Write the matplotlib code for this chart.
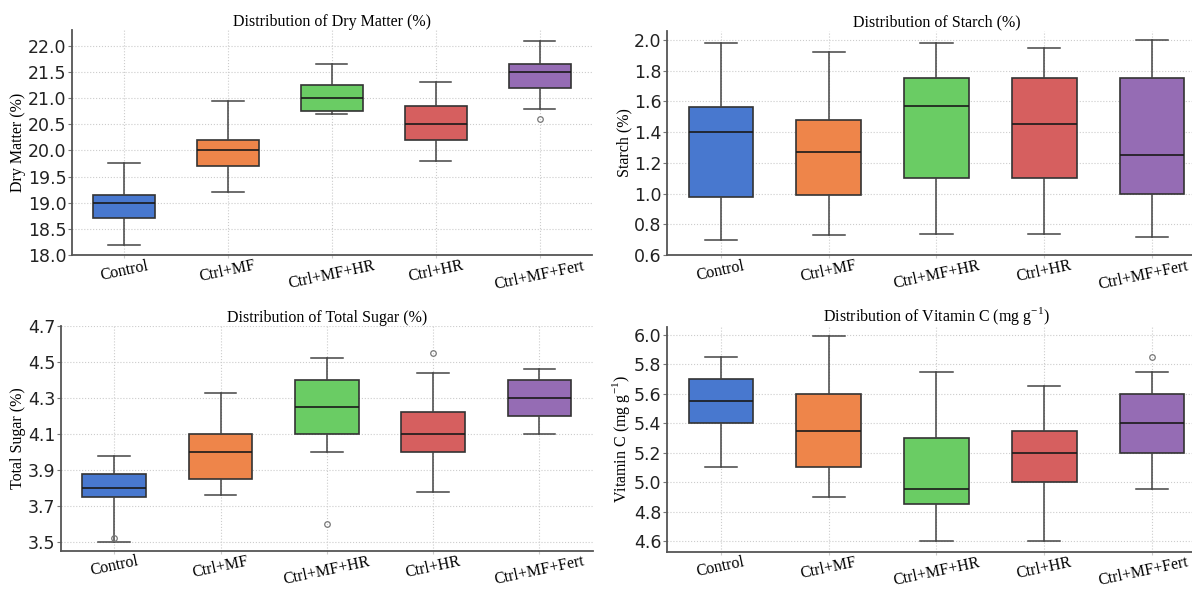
import matplotlib
matplotlib.use("Agg")
import matplotlib.pyplot as plt
import matplotlib.transforms as mtransforms

categories = ["Control", "Ctrl+MF", "Ctrl+MF+HR", "Ctrl+HR", "Ctrl+MF+Fert"]
colors = ["#4878CF", "#EE854A", "#6ACC64", "#D65F5F", "#956CB4"]

# five-number summaries: whislo, q1, med, q3, whishi
dry_matter = [[18.2, 18.7, 19.0, 19.15, 19.75],
              [19.2, 19.7, 20.0, 20.2, 20.95],
              [20.7, 20.75, 21.0, 21.25, 21.65],
              [19.8, 20.2, 20.5, 20.85, 21.3],
              [20.8, 21.2, 21.5, 21.65, 22.1]]
dry_matter_fliers = [[], [], [], [], [20.6]]

starch = [[0.70, 0.98, 1.40, 1.56, 1.98],
          [0.73, 0.99, 1.27, 1.48, 1.92],
          [0.74, 1.10, 1.57, 1.75, 1.98],
          [0.74, 1.10, 1.45, 1.75, 1.95],
          [0.72, 1.00, 1.25, 1.75, 2.00]]
starch_fliers = [[], [], [], [], []]

total_sugar = [[3.50, 3.75, 3.80, 3.88, 3.98],
               [3.76, 3.85, 4.00, 4.10, 4.33],
               [4.00, 4.10, 4.25, 4.40, 4.52],
               [3.78, 4.00, 4.10, 4.22, 4.44],
               [4.10, 4.20, 4.30, 4.40, 4.46]]
total_sugar_fliers = [[3.52], [], [3.60], [4.55], []]

vitamin_c = [[5.10, 5.40, 5.55, 5.70, 5.85],
             [4.90, 5.10, 5.35, 5.60, 5.99],
             [4.60, 4.85, 4.95, 5.30, 5.75],
             [4.60, 5.00, 5.20, 5.35, 5.65],
             [4.95, 5.20, 5.40, 5.60, 5.75]]
vitamin_c_fliers = [[], [], [], [], [5.85]]

panels = [
    dict(data=dry_matter, fliers=dry_matter_fliers, title="Distribution of Dry Matter (%)",
         ylabel="Dry Matter (%)", ylim=(18.0, 22.3), yticks=[18.0, 18.5, 19.0, 19.5, 20.0, 20.5, 21.0, 21.5, 22.0],
         rect=[0.0604, 0.567, 0.436, 0.382], right=False),
    dict(data=starch, fliers=starch_fliers, title="Distribution of Starch (%)",
         ylabel="Starch (%)", ylim=(0.6, 2.06), yticks=[0.6, 0.8, 1.0, 1.2, 1.4, 1.6, 1.8, 2.0],
         rect=[0.5596, 0.567, 0.452, 0.381], right=True),
    dict(data=total_sugar, fliers=total_sugar_fliers, title="Distribution of Total Sugar (%)",
         ylabel="Total Sugar (%)", ylim=(3.452, 4.7), yticks=[3.5, 3.7, 3.9, 4.1, 4.3, 4.5, 4.7],
         rect=[0.0512, 0.065, 0.446, 0.3815], right=False),
    dict(data=vitamin_c, fliers=vitamin_c_fliers, title="Distribution of Vitamin C (mg g$^{-1}$)",
         ylabel="Vitamin C (mg g$^{-1}$)", ylim=(4.527, 6.056), yticks=[4.6, 4.8, 5.0, 5.2, 5.4, 5.6, 5.8, 6.0],
         rect=[0.5596, 0.0633, 0.452, 0.382], right=True),
]

plt.rcParams['mathtext.fontset'] = 'custom'
plt.rcParams['mathtext.rm'] = 'Liberation Serif'

fig = plt.figure(figsize=(11.92, 5.89), dpi=100)

serif = "Liberation Serif"
for p in panels:
    ax = fig.add_axes(p["rect"])
    stats = []
    for name, v, fl in zip(categories, p["data"], p["fliers"]):
        stats.append(dict(label=name, whislo=v[0], q1=v[1], med=v[2], q3=v[3], whishi=v[4], fliers=fl))
    bp = ax.bxp(stats, widths=0.6, patch_artist=True, showfliers=True,
                boxprops=dict(edgecolor="#333333", linewidth=1.2),
                medianprops=dict(color="#1a1a1a", linewidth=1.2),
                whiskerprops=dict(color="#444444", linewidth=1.1),
                capprops=dict(color="#444444", linewidth=1.1),
                flierprops=dict(marker="o", markersize=4, markerfacecolor="none",
                                markeredgecolor="#777777", markeredgewidth=0.9))
    for patch, c in zip(bp["boxes"], colors):
        patch.set_facecolor(c)
    ax.set_xlim(0.5, 5.5)
    ax.set_ylim(*p["ylim"])
    ax.set_yticks(p["yticks"])
    ax.set_yticklabels([f"{t:.1f}" for t in p["yticks"]], fontsize=12.5, family="DejaVu Sans", color="#222222")
    ax.set_xticks(range(1, 6))
    ax.set_xticklabels(categories, rotation=12, fontsize=11.5, family=serif, ha="center")
    ax.set_title(p["title"], family=serif, fontsize=11.5, pad=3)
    ax.set_ylabel(p["ylabel"], family=serif, fontsize=11.5, labelpad=1)
    ax.grid(True, linestyle=":", color="#cccccc", linewidth=0.8)
    ax.set_axisbelow(True)
    for s in ["top", "right"]:
        ax.spines[s].set_visible(False)
    for s in ["left", "bottom"]:
        ax.spines[s].set_color("#555555")
        ax.spines[s].set_linewidth(1.3)
    ax.tick_params(axis="y", length=3, width=0.8, color="#777777", pad=1)
    ax.tick_params(axis="x", length=2, width=0.8, color="#cccccc", pad=0)
    if p["right"]:
        lab = ax.xaxis.get_major_ticks()[-1].label1
        off = mtransforms.ScaledTranslation(-9 / 100, 0, fig.dpi_scale_trans)
        lab.set_transform(lab.get_transform() + off)

fig.savefig("out.png", dpi=100)
